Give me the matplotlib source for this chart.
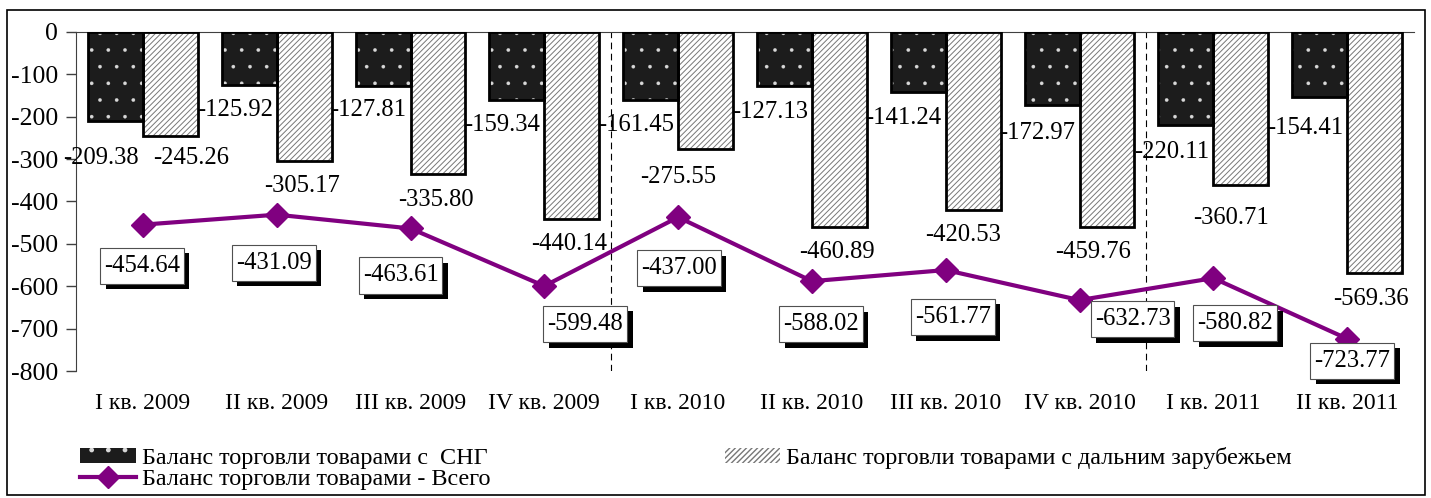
import numpy as np
import matplotlib
matplotlib.use("Agg")
import matplotlib.pyplot as plt
import matplotlib.patheffects as pe
from matplotlib.patches import Rectangle, Patch
from matplotlib.lines import Line2D
from matplotlib.path import Path

plt.rcParams['font.family'] = ['Liberation Serif', 'DejaVu Serif']
plt.rcParams['axes.unicode_minus'] = False

# данные
quarters = ['I кв. 2009', 'II кв. 2009', 'III кв. 2009', 'IV кв. 2009',
            'I кв. 2010', 'II кв. 2010', 'III кв. 2010', 'IV кв. 2010',
            'I кв. 2011', 'II кв. 2011']
cis = [-209.38, -125.92, -127.81, -159.34, -161.45, -127.13, -141.24, -172.97, -220.11, -154.41]
far = [-245.26, -305.17, -335.80, -440.14, -275.55, -460.89, -420.53, -459.76, -360.71, -569.36]
total = [-454.64, -431.09, -463.61, -599.48, -437.00, -588.02, -561.77, -632.73, -580.82, -723.77]

name_cis = 'Баланс торговли товарами с  СНГ'
name_far = 'Баланс торговли товарами с дальним зарубежьем'
name_total = 'Баланс торговли товарами - Всего'

# смещения подписей (в пикселях)
cis_dy = [37, 25, 24, 25, 25, 26, 26, 28, 27, 31]
far_dx = [48, 25, 25, 25, 0, 25, 17, 14, 18, 24]
far_dy = [22, 25, 26, 25, 28, 25, 25, 25, 33, 26]
tot_dx = [-1, -3, -10, 41, 1, 9, 7, 53, 22, 5]
tot_dy = [41, 48, 47, 38, 51, 43, 47, 19, 45, 22]

px = 0.72  # px -> pt при dpi 100
fs_lab = 17.7

fig = plt.figure(figsize=(14.31, 4.98), dpi=100)
ax = fig.add_axes([76 / 1431, 1 - 371 / 498, 1338 / 1431, 339 / 498])

x = np.arange(len(quarters))
w = 0.41
purple = '#800080'


def set_hlw(patches, lw):
    for p in patches:
        if hasattr(p, 'set_hatch_linewidth'):
            p.set_hatch_linewidth(lw)


def box_xy(x0, y0, width, height, mutation_size):
    # прямоугольник с разными отступами по x и y
    px_ = 0.16 * mutation_size
    py_ = 0.29 * mutation_size
    x0, y0 = x0 - px_, y0 - py_
    x1, y1 = x0 + width + 2 * px_, y0 + height + 2 * py_
    return Path([(x0, y0), (x1, y0), (x1, y1), (x0, y1), (x0, y0)], closed=True)


# СНГ: черные с белыми точками
with plt.rc_context({'hatch.linewidth': 0.2}):
    b1 = ax.bar(x - w / 2, cis, w, color='#1c1c1c', edgecolor='#d8d8d8', hatch='.', linewidth=0, zorder=2)
set_hlw(b1, 0.2)
ax.bar(x - w / 2, cis, w, fill=False, edgecolor='black', linewidth=2, zorder=3)
# дальнее зарубежье: штриховка
with plt.rc_context({'hatch.linewidth': 0.7}):
    b2 = ax.bar(x + w / 2, far, w, color='white', edgecolor='#777777', hatch='//////', linewidth=0, zorder=2)
set_hlw(b2, 0.7)
ax.bar(x + w / 2, far, w, fill=False, edgecolor='black', linewidth=2, zorder=3)

ax.plot(x, total, color=purple, lw=3, marker='D', markersize=12, zorder=5)

# вертикальные разделители по годам
for b in [3.5, 7.5]:
    ax.axvline(b, color='black', lw=0.8, ls=(0, (6, 4)), zorder=1)

for i in range(len(x)):
    ax.annotate(f'{cis[i]:.2f}', (x[i], cis[i]), xytext=(-4 * px, -cis_dy[i] * px),
                textcoords='offset points', ha='right', va='center', fontsize=fs_lab, zorder=6)
    ax.annotate(f'{far[i]:.2f}', (x[i], far[i]), xytext=(far_dx[i] * px, -far_dy[i] * px),
                textcoords='offset points', ha='center', va='center', fontsize=fs_lab, zorder=6)
    t = ax.annotate(f'{total[i]:.2f}', (x[i], total[i]), xytext=(tot_dx[i] * px, -tot_dy[i] * px),
                    textcoords='offset points', ha='center', va='center', fontsize=fs_lab, zorder=7,
                    bbox=dict(boxstyle=box_xy, fc='white', ec='#505050', lw=0.8))
    t.get_bbox_patch().set_path_effects([
        pe.SimplePatchShadow(offset=(4, -4), shadow_rgbFace='black', alpha=1.0),
        pe.Normal()])

ax.set_xlim(-0.5, len(x) - 0.5)
ax.set_ylim(-800, 0)
ax.set_yticks(np.arange(-800, 1, 100))
ax.set_xticks(x)
ax.set_xticklabels(quarters, fontsize=17)
ax.tick_params(axis='x', length=0, pad=16)
ax.tick_params(axis='y', labelsize=18.5, length=7, width=1, direction='out', pad=6, color='#404040')
ax.spines['bottom'].set_visible(False)
ax.spines['right'].set_visible(False)
ax.spines['top'].set_color('#404040')
ax.spines['left'].set_color('#404040')

# легенда
h_cis = Patch(facecolor='#1c1c1c', edgecolor='#d8d8d8', hatch='.', linewidth=0)
h_far = Patch(facecolor='white', edgecolor='#777777', hatch='//////', linewidth=0)
set_hlw([h_cis], 0.2)
set_hlw([h_far], 0.7)
h_tot = Line2D([], [], color=purple, lw=3, marker='D', markersize=11)
leg = fig.legend([h_cis, h_tot, h_far], [name_cis, name_total, name_far],
                 loc='upper left', bbox_to_anchor=(80 / 1431, 1 - 447 / 498), ncol=2,
                 frameon=False, fontsize=17.4, handlelength=2.3, handleheight=0.6,
                 handletextpad=0.25, labelspacing=0.0, columnspacing=9.7, borderpad=0,
                 borderaxespad=0)

# внешняя рамка
fig.patches.append(Rectangle((7 / 1431, 3 / 498), 1418 / 1431, 485 / 498, transform=fig.transFigure,
                             fill=False, ec='black', lw=1.2))

fig.savefig('out.png', dpi=100)
